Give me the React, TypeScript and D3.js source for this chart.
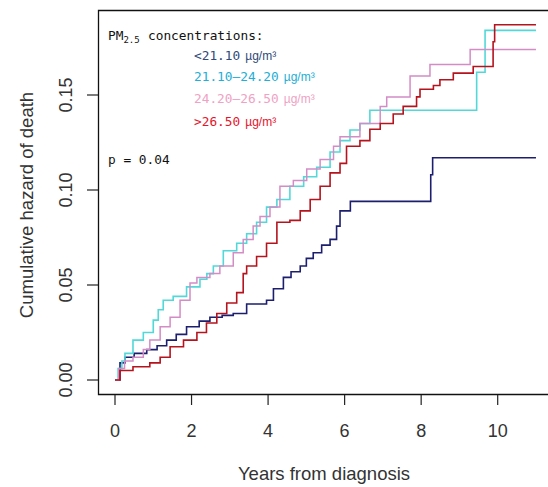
import React from "react";
import * as d3 from "d3";

const xTicks = [0, 2, 4, 6, 8, 10];
const yTicks = [0, 0.05, 0.1, 0.15];
const yTickLabels = ["0.00", "0.05", "0.10", "0.15"];

const navyT = [0, 0.13, 0.26, 0.5, 0.83, 1.1, 1.35, 1.6, 1.87, 2.2, 2.48, 2.8, 3.09, 3.44, 3.96, 4.14, 4.4, 4.6, 4.84, 5.0, 5.18, 5.4, 5.62, 5.79, 5.88, 6.15, 8.25, 8.3, 11.0];
const navyV = [0, 0.009, 0.012, 0.014, 0.016, 0.018, 0.021, 0.024, 0.028, 0.031, 0.033, 0.034, 0.035, 0.04, 0.042, 0.048, 0.054, 0.057, 0.06, 0.064, 0.067, 0.071, 0.074, 0.081, 0.089, 0.094, 0.108, 0.117, 0.117];

const cyanT = [0, 0.08, 0.18, 0.26, 0.47, 0.74, 1.0, 1.13, 1.26, 1.52, 1.87, 2.22, 2.4, 2.57, 2.83, 3.18, 3.44, 3.7, 3.96, 4.23, 4.57, 4.93, 5.27, 5.62, 5.88, 6.14, 6.4, 6.66, 9.45, 9.67, 11.0];
const cyanV = [0, 0.006, 0.01, 0.014, 0.021, 0.025, 0.0315, 0.037, 0.042, 0.044, 0.049, 0.053, 0.056, 0.06, 0.068, 0.072, 0.077, 0.083, 0.091, 0.095, 0.102, 0.107, 0.112, 0.12, 0.126, 0.1316, 0.135, 0.142, 0.162, 0.184, 0.184];

const pinkT = [0, 0.1, 0.25, 0.47, 0.74, 0.91, 1.18, 1.44, 1.7, 1.96, 2.14, 2.48, 2.74, 3.09, 3.35, 3.61, 3.79, 4.05, 4.31, 4.66, 5.01, 5.36, 5.71, 5.88, 6.4, 6.93, 7.1, 7.71, 8.23, 9.28, 11.0];
const pinkV = [0, 0.006, 0.01, 0.012, 0.016, 0.021, 0.028, 0.033, 0.042, 0.051, 0.054, 0.056, 0.06, 0.067, 0.074, 0.081, 0.086, 0.091, 0.102, 0.105, 0.111, 0.116, 0.123, 0.128, 0.135, 0.144, 0.149, 0.16, 0.166, 0.174, 0.174];

const redT = [0, 0.13, 0.47, 0.91, 1.18, 1.44, 1.79, 2.14, 2.39, 2.66, 2.92, 3.18, 3.35, 3.44, 3.7, 3.96, 4.23, 4.57, 4.84, 5.1, 5.36, 5.62, 5.88, 6.05, 6.4, 6.66, 6.93, 7.27, 7.53, 7.88, 7.97, 8.32, 8.49, 8.84, 9.36, 9.88, 9.92, 11.0];
const redV = [0, 0.005, 0.007, 0.009, 0.012, 0.0175, 0.021, 0.025, 0.03, 0.035, 0.0405, 0.046, 0.056, 0.06, 0.065, 0.072, 0.083, 0.084, 0.089, 0.095, 0.102, 0.109, 0.114, 0.123, 0.126, 0.132, 0.135, 0.14, 0.144, 0.149, 0.153, 0.155, 0.158, 0.1615, 0.165, 0.178, 0.187, 0.187];

const legendLabels = ["<21.10", "21.10\u201324.20", "24.20\u201326.50", ">26.50"];
const unitLabel = "\u00b5g/m\u00b3";

const series = [
  { t: navyT, v: navyV, color: "#1d1f6e", text: "#2e4a78", width: 1.6 },
  { t: cyanT, v: cyanV, color: "#52d8d8", text: "#22aed6", width: 1.6 },
  { t: pinkT, v: pinkV, color: "#d48cc6", text: "#f0a2c4", width: 1.5 },
  { t: redT, v: redV, color: "#b5141e", text: "#e6142a", width: 1.6 },
];

export default function App() {
  const x = d3.scaleLinear().domain([0, 10]).range([115, 497.7]);
  const y = d3.scaleLinear().domain([0, 0.15]).range([380, 95]);
  const line = d3
    .line<[number, number]>()
    .x((d) => x(d[0]))
    .y((d) => y(d[1]))
    .curve(d3.curveStepAfter);

  const sans = "Liberation Sans, Arial, sans-serif";
  const mono = "DejaVu Sans Mono, monospace";
  const legendY = [60, 81, 103, 126];

  return (
    <svg width={548} height={487} style={{ position: "absolute", left: 0, top: 0, background: "#fff" }}>
      <rect x={0} y={0} width={548} height={487} fill="#fff" />
      <path d="M548,10.5 H98.5 V394.5 H548" fill="none" stroke="#111" strokeWidth={1.3} />
      {xTicks.map((t) => (
        <g key={t}>
          <line x1={x(t)} x2={x(t)} y1={395} y2={405} stroke="#222" strokeWidth={1.2} />
          <text x={x(t)} y={437} textAnchor="middle" fontFamily={sans} fontSize={18} fill="#333">
            {t}
          </text>
        </g>
      ))}
      {yTicks.map((v, i) => (
        <g key={v}>
          <line x1={87} x2={98} y1={y(v)} y2={y(v)} stroke="#222" strokeWidth={1.2} />
          <text
            transform={`translate(72,${y(v)}) rotate(-90)`}
            textAnchor="middle"
            fontFamily={sans}
            fontSize={18}
            fill="#333"
          >
            {yTickLabels[i]}
          </text>
        </g>
      ))}
      <text
        transform={`translate(33,205) rotate(-90)`}
        textAnchor="middle"
        fontFamily={sans}
        fontSize={18.5}
        fill="#333"
      >
        Cumulative hazard of death
      </text>
      <text x={324} y={480} textAnchor="middle" fontFamily={sans} fontSize={18.5} fill="#333">
        Years from diagnosis
      </text>
      {series.map((s, i) => (
        <path
          key={i}
          d={line(s.t.map((t, j) => [t, s.v[j]] as [number, number])) || ""}
          fill="none"
          stroke={s.color}
          strokeWidth={s.width}
        />
      ))}
      <text x={108} y={40} fontFamily={mono} fontSize={12.8} fill="#111">
        PM
        <tspan fontSize={9} dy={3}>2.5</tspan>
        <tspan dy={-3} x={148}>concentrations:</tspan>
      </text>
      {series.map((s, i) => (
        <text key={i} x={194} y={legendY[i]} fontFamily={mono} fontSize={12.8} fill={s.text}>
          {legendLabels[i]}
          <tspan fontFamily={sans} fontSize={12} dx={5}>{unitLabel}</tspan>
        </text>
      ))}
      <text x={108} y={164} fontFamily={mono} fontSize={12.8} fill="#111">
        p = 0.04
      </text>
    </svg>
  );
}
